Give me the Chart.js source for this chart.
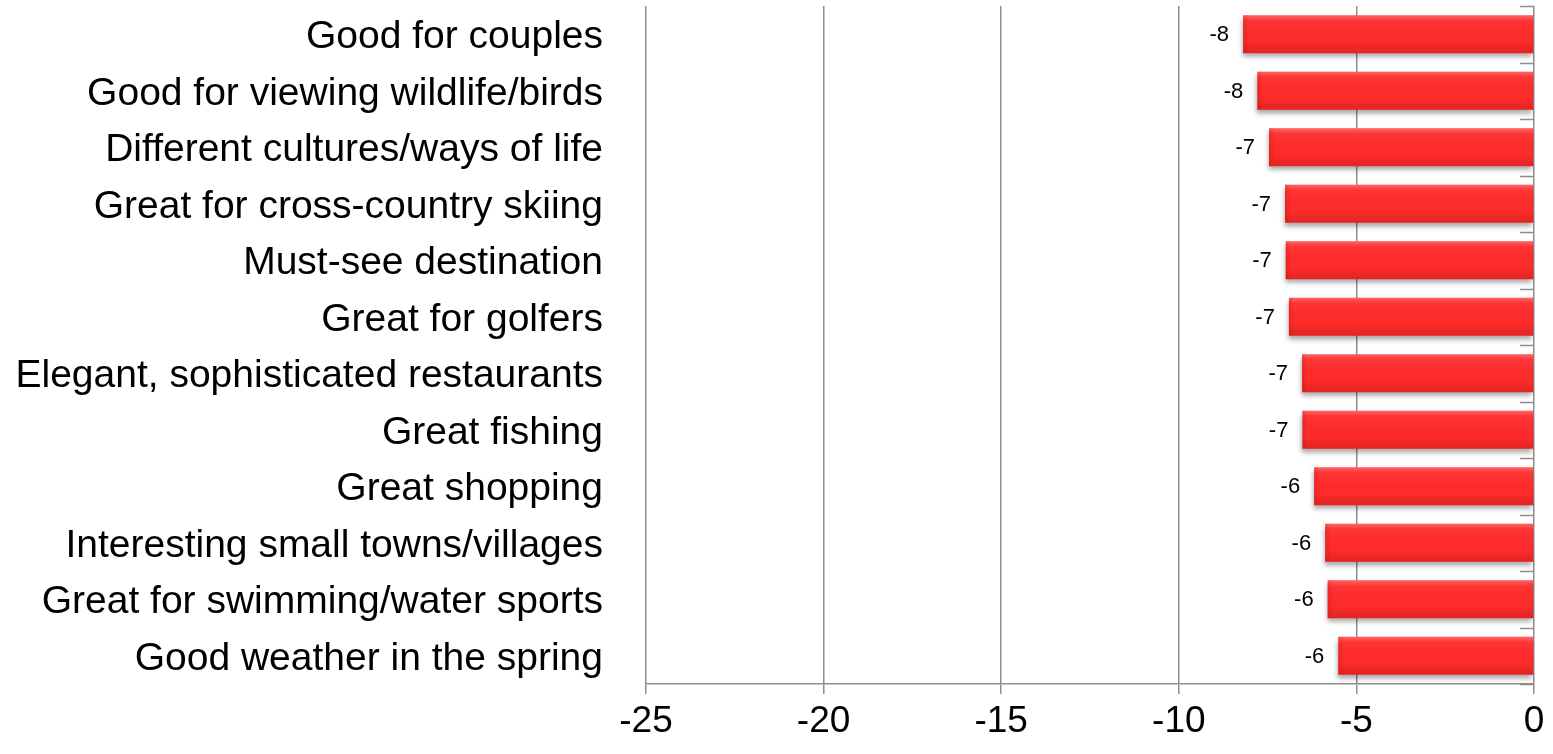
<!DOCTYPE html>
<html>
<head>
<meta charset="utf-8">
<script src="https://cdn.jsdelivr.net/npm/chart.js@4.4.0/dist/chart.umd.min.js"></script>
<style>
    html, body { margin: 0; padding: 0; background: #fff; }
    canvas { display: block; }
</style>
</head>
<body>
<canvas id="attributeChart" width="1553" height="754"></canvas>
<script>
// Attribute gaps, top to bottom
const attributes = [
    'Good for couples',
    'Good for viewing wildlife/birds',
    'Different cultures/ways of life',
    'Great for cross-country skiing',
    'Must-see destination',
    'Great for golfers',
    'Elegant, sophisticated restaurants',
    'Great fishing',
    'Great shopping',
    'Interesting small towns/villages',
    'Great for swimming/water sports',
    'Good weather in the spring'
];
const gapValues = [-8.19, -7.79, -7.46, -7.01, -6.99, -6.90, -6.53, -6.52, -6.19, -5.88, -5.81, -5.51];
const xTicks = [-25, -20, -15, -10, -5, 0];

const FONT = '"Liberation Sans", Arial, Helvetica, sans-serif';
const AXIS_GRAY = '#8d8d8d';

// soft drop shadow under the bars
const barShadow = {
    id: 'barShadow',
    beforeDatasetsDraw(chart) {
        const ctx = chart.ctx;
        ctx.save();
        ctx.shadowColor = 'rgba(0, 0, 0, 0.35)';
        ctx.shadowBlur = 5;
        ctx.shadowOffsetX = -1;
        ctx.shadowOffsetY = 4;
    },
    afterDatasetsDraw(chart) {
        chart.ctx.restore();
    }
};

// bevel highlight on each bar + rounded value labels
const barFinish = {
    id: 'barFinish',
    afterDatasetsDraw(chart) {
        const ctx = chart.ctx;
        const meta = chart.getDatasetMeta(0);
        const values = chart.data.datasets[0].data;
        ctx.save();
        meta.data.forEach((bar, i) => {
            const left = Math.min(bar.x, bar.base);
            const right = Math.max(bar.x, bar.base);
            const top = bar.y - bar.height / 2;
            const bottom = bar.y + bar.height / 2;

            const shade = ctx.createLinearGradient(0, top, 0, bottom);
            shade.addColorStop(0, 'rgba(255, 255, 255, 0.28)');
            shade.addColorStop(0.14, 'rgba(255, 255, 255, 0.05)');
            shade.addColorStop(0.7, 'rgba(0, 0, 0, 0)');
            shade.addColorStop(1, 'rgba(120, 0, 0, 0.18)');
            ctx.fillStyle = shade;
            ctx.fillRect(left, top, right - left, bottom - top);

            const edge = ctx.createLinearGradient(left, 0, left + 6, 0);
            edge.addColorStop(0, 'rgba(150, 0, 0, 0.18)');
            edge.addColorStop(1, 'rgba(150, 0, 0, 0)');
            ctx.fillStyle = edge;
            ctx.fillRect(left, top, 6, bottom - top);

            ctx.fillStyle = '#000';
            ctx.font = '22px ' + FONT;
            ctx.textAlign = 'right';
            ctx.textBaseline = 'middle';
            ctx.fillText(String(Math.round(values[i])), left - 14, bar.y + 1);
        });
        ctx.restore();
    }
};

// short inward ticks on the zero line between categories
const zeroAxisTicks = {
    id: 'zeroAxisTicks',
    afterDraw(chart) {
        const ctx = chart.ctx;
        const xScale = chart.scales.x;
        const yScale = chart.scales.y;
        const x0 = xScale.getPixelForValue(0);
        ctx.save();
        ctx.strokeStyle = AXIS_GRAY;
        ctx.lineWidth = 1.5;
        ctx.beginPath();
        for (let i = 0; i <= attributes.length; i++) {
            const y = Math.round(yScale.getPixelForValue(i - 0.5)) + 0.5;
            ctx.moveTo(x0 - 14, y);
            ctx.lineTo(x0, y);
        }
        ctx.stroke();
        ctx.restore();
    }
};

const ctx = document.getElementById('attributeChart').getContext('2d');
const attributeChart = new Chart(ctx, {
    type: 'bar',
    data: {
        labels: attributes,
        datasets: [{
            data: gapValues,
            backgroundColor: '#ff2b2b',
            borderWidth: 0,
            barPercentage: 0.67,
            categoryPercentage: 1.0
        }]
    },
    options: {
        indexAxis: 'y',
        responsive: false,
        animation: false,
        devicePixelRatio: 1,
        layout: {
            padding: { top: 6, right: 19, left: 0, bottom: 0 }
        },
        plugins: {
            legend: { display: false },
            tooltip: { enabled: false }
        },
        scales: {
            x: {
                min: xTicks[0],
                max: xTicks[xTicks.length - 1],
                afterBuildTicks: scale => {
                    scale.ticks = xTicks.map(v => ({ value: v }));
                },
                afterFit: scale => { scale.height = 70; },
                ticks: {
                    color: '#000',
                    font: { family: FONT, size: 37 },
                    padding: 6,
                    maxRotation: 0
                },
                grid: {
                    color: AXIS_GRAY,
                    lineWidth: 1.5,
                    tickLength: 10,
                    drawTicks: true
                },
                border: {
                    color: AXIS_GRAY,
                    width: 1.5
                }
            },
            y: {
                afterFit: scale => {
                    scale.width = 646;
                    scale.paddingTop = 0;
                    scale.paddingBottom = 0;
                },
                ticks: {
                    color: '#000',
                    font: { family: FONT, size: 39 },
                    padding: 43,
                    labelOffset: 3,
                    autoSkip: false
                },
                grid: { display: false, drawTicks: false },
                border: { display: false }
            }
        }
    },
    plugins: [barShadow, barFinish, zeroAxisTicks]
});
</script>
</body>
</html>
